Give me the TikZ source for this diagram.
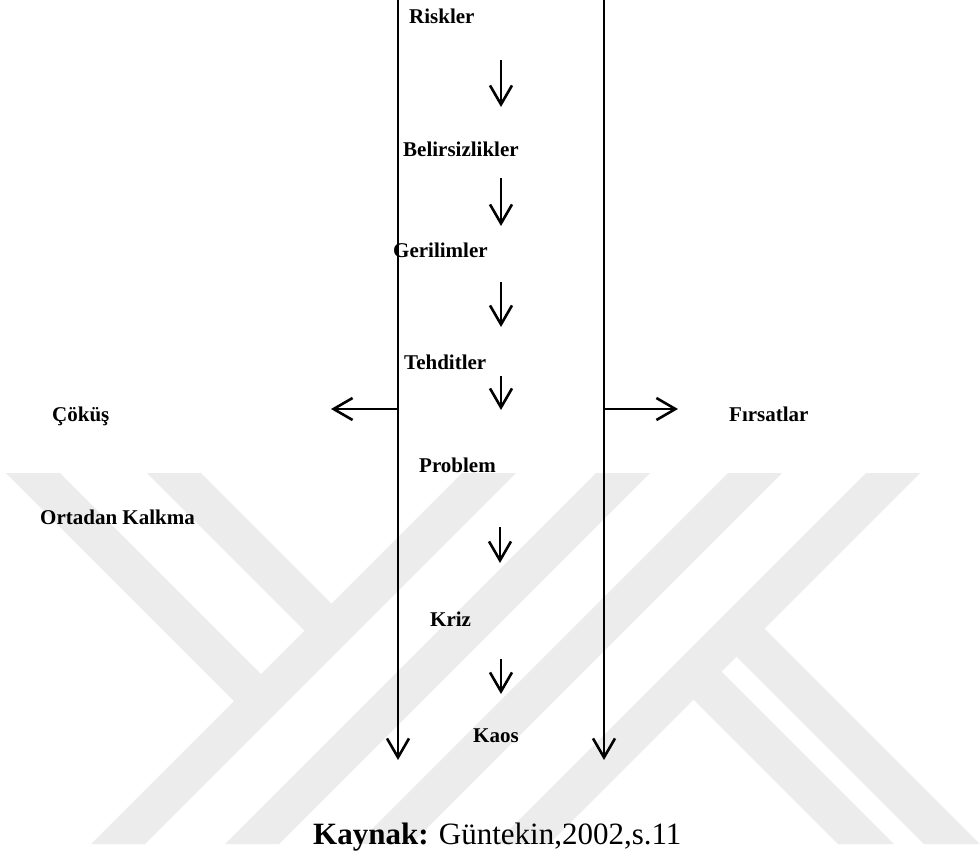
\documentclass[tikz,border=0pt]{standalone}
\usepackage{fontspec}
\setmainfont{Liberation Serif}
\usetikzlibrary{arrows.meta}
\definecolor{wm}{RGB}{236,236,236}
\begin{document}
\begin{tikzpicture}[x=1pt,y=-1pt,
  lbl/.style={anchor=base west,inner sep=0pt,font=\fontsize{21}{25}\selectfont\bfseries},
  captext/.style={anchor=base west,inner sep=0pt,font=\fontsize{31}{36}\selectfont},
  flow/.style={line width=2.6pt,line cap=butt,-{Straight Barb[length=19pt,width=22pt,line width=2.6pt]}},
  wmk/.style={fill=wm,draw=none}]
\useasboundingbox[fill=white] (0,0) rectangle (980,857);
% watermark
\fill[wmk] (6,473) -- (60,473) -- (262,675) -- (235,702) -- cycle;
\fill[wmk] (147,473) -- (201,473) -- (333,605) -- (306,632) -- cycle;
\fill[wmk] (462,473) -- (516,473) -- (145,844) -- (91,844) -- cycle;
\fill[wmk] (596,473) -- (650,473) -- (279,844) -- (225,844) -- cycle;
\fill[wmk] (728,473) -- (782,473) -- (411,844) -- (357,844) -- cycle;
\fill[wmk] (866,473) -- (920,473) -- (549,844) -- (495,844) -- cycle;
\fill[wmk] (762,626) -- (734,654) -- (924,844) -- (980,844) -- cycle;
\fill[wmk] (719,669) -- (691,697) -- (838,844) -- (894,844) -- cycle;
% coordinates
\coordinate (Ltop) at (398,0);
\coordinate (Lend) at (398,760);
\coordinate (Rtop) at (604,0);
\coordinate (Rend) at (604,760);
\coordinate (Lmid) at (398,409);
\coordinate (Lout) at (331,409);
\coordinate (Rmid) at (604,409);
\coordinate (Rout) at (678,409);
\coordinate (a1s) at (501,60);  \coordinate (a1e) at (501,107);
\coordinate (a2s) at (501,178); \coordinate (a2e) at (501,226);
\coordinate (a3s) at (501,282); \coordinate (a3e) at (501,327);
\coordinate (a4s) at (501,376); \coordinate (a4e) at (501,410);
\coordinate (a5s) at (500,527); \coordinate (a5e) at (500,563);
\coordinate (a6s) at (501,659); \coordinate (a6e) at (501,694);
% labels
\node[lbl] (riskler) at (409,23) {Riskler};
\node[lbl] (belir) at (403,156) {Belirsizlikler};
\node[lbl] (geril) at (393,257) {Gerilimler};
\node[lbl] (tehdit) at (404,369) {Tehditler};
\node[lbl] (problem) at (419,472) {Problem};
\node[lbl] (kriz) at (430,626) {Kriz};
\node[lbl] (kaos) at (473,742) {Kaos};
\node[lbl] (cokus) at (52,421) {Çöküş};
\node[lbl] (ortadan) at (40,524) {Ortadan Kalkma};
\node[lbl] (firsat) at (729,421) {Fırsatlar};
\node[captext] (kaynak) at (313,844) {\textbf{Kaynak:} Güntekin,2002,s.11};
% connectors
\draw[flow] (Ltop) -- (Lend);
\draw[flow] (Rtop) -- (Rend);
\draw[flow] (Lmid) -- (Lout);
\draw[flow] (Rmid) -- (Rout);
\draw[flow] (a1s) -- (a1e);
\draw[flow] (a2s) -- (a2e);
\draw[flow] (a3s) -- (a3e);
\draw[flow] (a4s) -- (a4e);
\draw[flow] (a5s) -- (a5e);
\draw[flow] (a6s) -- (a6e);
\end{tikzpicture}
\end{document}
